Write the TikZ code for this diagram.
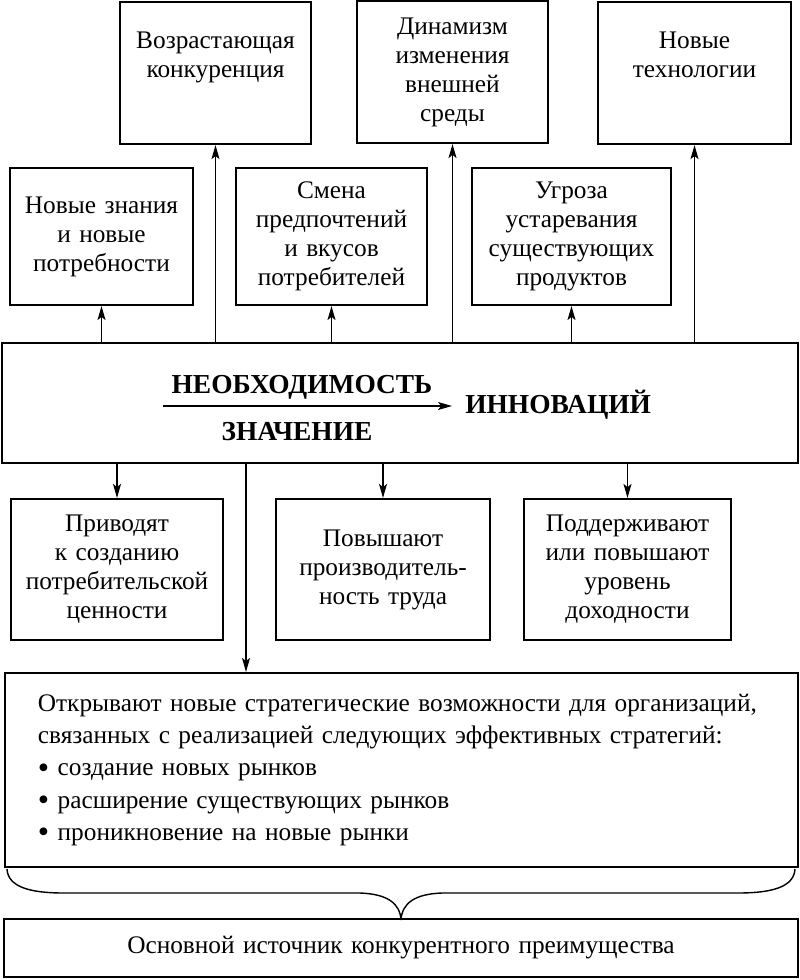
\documentclass[tikz,border=0pt]{standalone}
\usepackage{fontspec}
\setmainfont{Liberation Serif}
\usetikzlibrary{arrows.meta}
\newcommand{\bul}{\raisebox{-0.2ex}{\fontsize{23}{22.8}\selectfont•}}
\tikzset{
  box/.style={draw, line width=1.5pt, align=center, inner xsep=0pt, inner ysep=0pt,
    font=\fontsize{18}{20.6}\selectfont},
  arr/.style={-{Stealth[length=3.5mm,width=2mm,inset=0.8mm]}, line width=0.8pt},
  head/.style={font=\fontsize{19.5}{22}\selectfont\bfseries, inner sep=0pt},
}
\begin{document}
\begin{tikzpicture}[x=0.025cm, y=-0.025cm]
    \useasboundingbox (0,0) rectangle (800,980);
    % upper row
    \node[box, anchor=north, text width=4.775cm, text height=1.15cm, text depth=2.4cm] (konk) at (215.5,1) {Возрастающая\\конкуренция};
    \node[box, text width=4.775cm, minimum height=3.55cm] (dinam) at (452.5,72) {Динамизм\\изменения\\внешней\\среды};
    \node[box, anchor=north, text width=4.825cm, text height=1.15cm, text depth=2.4cm] (tekh) at (694.5,1) {Новые\\технологии};
    \node[box, text width=4.575cm, minimum height=3.425cm] (znan) at (101.5,236.5) {Новые знания\\и новые\\потребности};
    \node[box, text width=4.775cm, minimum height=3.425cm] (vkus) at (331.5,236.5) {Смена\\предпочтений\\и вкусов\\потребителей};
    \node[box, text width=4.975cm, minimum height=3.425cm] (ugroza) at (571.5,236.5) {Угроза\\устаревания\\существующих\\продуктов};
    % center
    \node[box, minimum width=19.9cm, minimum height=3cm] (main) at (400,403) {};
    \node[head, anchor=base] (neob) at (302,393) {НЕОБХОДИМОСТЬ};
    \node[head, anchor=base] (znach) at (297,440) {ЗНАЧЕНИЕ};
    \node[head, anchor=base west, inner xsep=0.325cm] (innov) at (452,413) {ИННОВАЦИЙ};
    \coordinate (arrstart) at (163,406);
    \draw[arr] (arrstart) -- (arrstart -| innov.west);
    % lower row
    \node[box, text width=5.3cm, minimum height=3.525cm] (privod) at (117,569.5) {Приводят\\к созданию\\потребительской\\ценности};
    \node[box, text width=5.35cm, minimum height=3.525cm] (proizv) at (383,569.5) {Повышают\\производитель-\\ность труда};
    \node[box, text width=5.175cm, minimum height=3.525cm] (dohod) at (627.5,569.5) {Поддерживают\\или повышают\\уровень\\доходности};
    \node[box, align=left, text width=18.175cm, inner xsep=0.825cm, minimum height=4.85cm,
      font=\fontsize{18}{22.8}\selectfont] (strat) at (401.5,770)
      {Открывают новые стратегические возможности для организаций,\\
       связанных с реализацией следующих эффективных стратегий:\\
       \bul{} создание новых рынков\\
       \bul{} расширение существующих рынков\\
       \bul{} проникновение на новые рынки};
    \node[box, text width=19.85cm, minimum height=1.45cm] (istoch) at (401,948) {Основной источник конкурентного преимущества};
    % arrows
    \foreach \n in {znan,vkus,ugroza,konk,dinam,tekh}
        {\draw[arr] (main.north -| \n) -- (\n);
        }
    \foreach \n in {privod,proizv,dohod}
        {\draw[arr] (main.south -| \n) -- (\n);
        }
    \coordinate (fork) at (246,463);
    \draw[arr] (fork) -- (fork |- strat.north);
    % brace
    \draw[line width=1pt] (7,869) .. controls (8,887) and (30,893) .. (64,893) -- (360,893)
        .. controls (387,894) and (400,903) .. (401,920);
    \draw[line width=1pt] (795,869) .. controls (794,887) and (772,893) .. (738,893) -- (442,893)
        .. controls (415,894) and (402,903) .. (401,920);
\end{tikzpicture}
\end{document}
